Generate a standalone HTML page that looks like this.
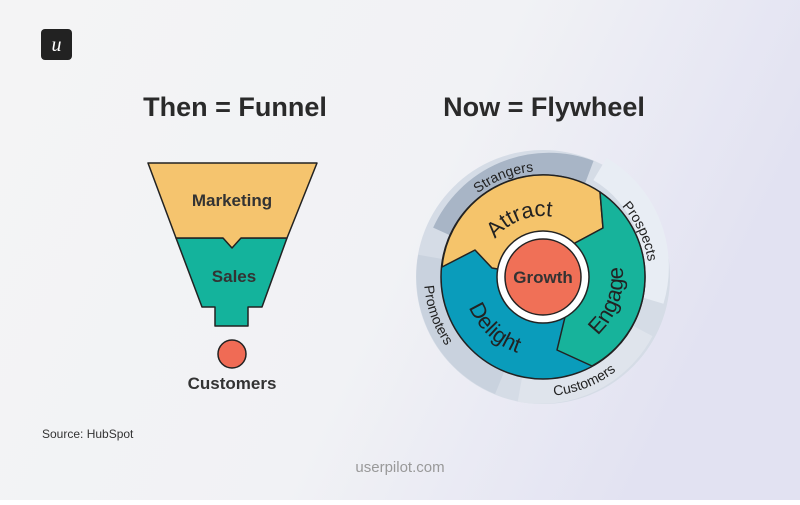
<!DOCTYPE html>
<html><head><meta charset="utf-8"><style>
body{margin:0;width:800px;height:500px;overflow:hidden;font-family:"Liberation Sans",sans-serif;}
</style></head><body>
<svg width="800" height="500" viewBox="0 0 800 500" xmlns="http://www.w3.org/2000/svg" font-family="Liberation Sans, sans-serif">
<defs>
<linearGradient id="bg" x1="0" y1="0" x2="1" y2="0.3">
<stop offset="0" stop-color="#f4f4f5"/><stop offset="0.6" stop-color="#f1f2f5"/><stop offset="1" stop-color="#e2e2f2"/>
</linearGradient>
<path id="cw106" d="M437,277 A106,106 0 1 1 649,277 A106,106 0 1 1 437,277"/>
<path id="ccw119" d="M424,277 A119,119 0 1 0 662,277 A119,119 0 1 0 424,277"/>
<path id="cw61" d="M482,277 A61,61 0 1 1 604,277 A61,61 0 1 1 482,277"/>
<path id="ccw80" d="M463,277 A80,80 0 1 0 623,277 A80,80 0 1 0 463,277"/>
</defs>
<rect width="800" height="500" fill="url(#bg)"/>
<rect x="41" y="29" width="31" height="31" rx="4" fill="#222"/>
<text x="56.5" y="51" text-anchor="middle" font-family="Liberation Serif, serif" font-style="italic" font-size="20" fill="#fff">u</text>
<text x="235" y="116" text-anchor="middle" font-size="27" font-weight="bold" fill="#2a2a2a">Then = Funnel</text>
<text x="544" y="116" text-anchor="middle" font-size="27" font-weight="bold" fill="#2a2a2a">Now = Flywheel</text>
<g stroke="#222" stroke-width="1.5" stroke-linejoin="round">
<path d="M176,238 L287,238 L262,307 L248,307 L248,326 L215,326 L215,307 L202,307 Z" fill="#14b39c"/>
<path d="M148,163 L317,163 L287,238 L241,238 L232,248 L223,238 L176,238 Z" fill="#f5c46e"/>
<circle cx="232" cy="354" r="14" fill="#f06b55"/>
</g>
<text x="232" y="206" text-anchor="middle" font-size="17" font-weight="bold" fill="#333">Marketing</text>
<text x="234" y="282" text-anchor="middle" font-size="17" font-weight="bold" fill="#333">Sales</text>
<text x="232" y="389" text-anchor="middle" font-size="17" font-weight="bold" fill="#333">Customers</text>
<circle cx="543" cy="277" r="114" fill="none" stroke="#d5dce6" stroke-width="26"/>
<path d="M445,233 A114,114 0 0 1 589,173" fill="none" stroke="#a8b5c6" stroke-width="26"/>
<path d="M600,169 A114,114 0 0 1 651,300" fill="none" stroke="#e8edf4" stroke-width="26"/>
<path d="M641,330 A114,114 0 0 1 520,389" fill="none" stroke="#dfe4ec" stroke-width="26"/>
<path d="M500,382 A114,114 0 0 1 431,257" fill="none" stroke="#c9d2de" stroke-width="26"/>
<g stroke="#222" stroke-width="1.5" stroke-linejoin="round">
<circle cx="543" cy="277" r="102" fill="#0a9cbb"/>
<path d="M442,267 A102,102 0 0 1 600,192 L603,228 L575,243 L543,277 L492,268 L475,250 Z" fill="#f5c46b"/>
<path d="M600,192 A102,102 0 0 1 592,366 L557,350 L565,317 L543,277 L575,243 L603,228 Z" fill="#17b39b"/>
<circle cx="543" cy="277" r="46" fill="#fff"/>
<circle cx="543" cy="277" r="38" fill="#f07057"/>
</g>
<text x="543" y="283" text-anchor="middle" font-size="17" font-weight="bold" fill="#333">Growth</text>
<g font-size="14" fill="#222">
<text><textPath href="#cw106" startOffset="19%" text-anchor="middle">Strangers</textPath></text>
<text><textPath href="#cw106" startOffset="43%" text-anchor="middle">Prospects</textPath></text>
<text><textPath href="#ccw119" startOffset="31%" text-anchor="middle">Customers</textPath></text>
<text><textPath href="#ccw119" startOffset="5.5%" text-anchor="middle">Promoters</textPath></text>
</g>
<g font-size="22" fill="#222">
<text><textPath href="#cw61" startOffset="19%" text-anchor="middle">Attract</textPath></text>
<text><textPath href="#ccw80" startOffset="44.5%" text-anchor="middle">Engage</textPath></text>
<text><textPath href="#ccw80" startOffset="13%" text-anchor="middle">Delight</textPath></text>
</g>
<text x="42" y="438" font-size="12" fill="#333">Source: HubSpot</text>
<text x="400" y="472" text-anchor="middle" font-size="15" fill="#999">userpilot.com</text>
</svg>
</body></html>
